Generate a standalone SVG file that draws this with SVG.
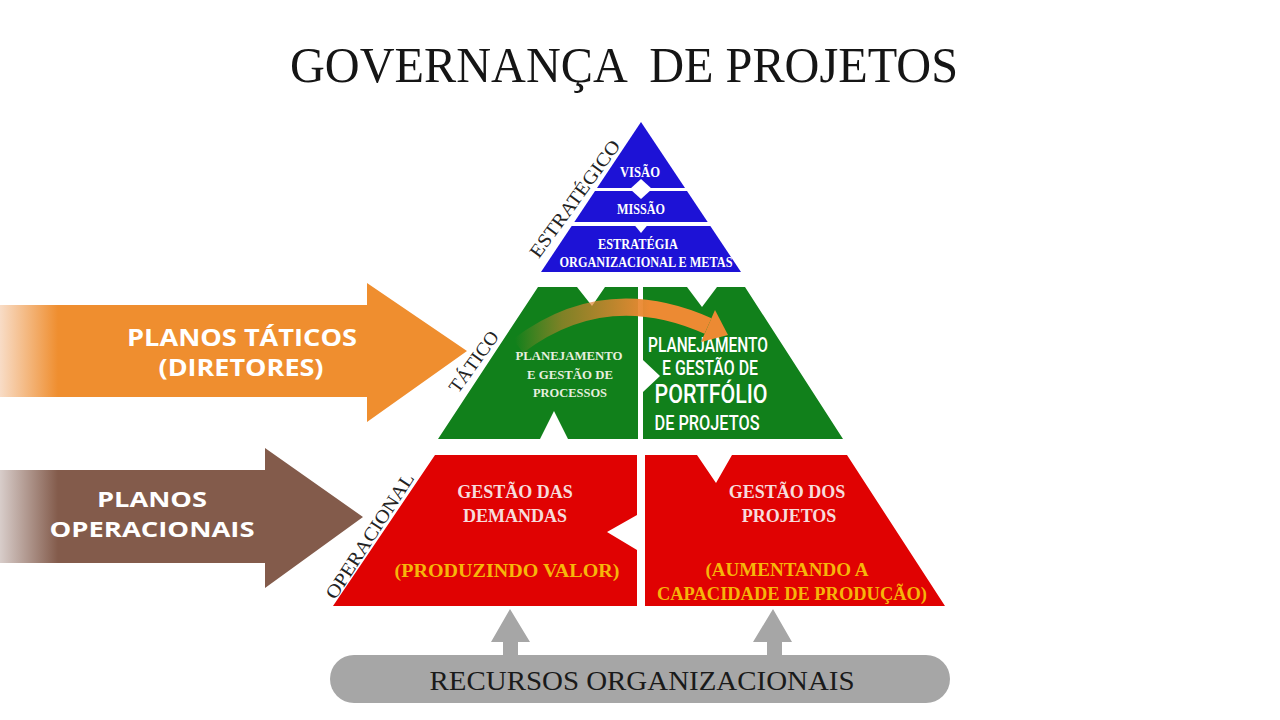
<svg xmlns="http://www.w3.org/2000/svg" width="1280" height="720" viewBox="0 0 1280 720">
  <defs>
    <linearGradient id="fadeOrange" gradientUnits="userSpaceOnUse" x1="0" y1="0" x2="58" y2="0">
      <stop offset="0" stop-color="#f8dcc6"/>
      <stop offset="1" stop-color="#ef8e2f"/>
    </linearGradient>
    <linearGradient id="fadeBrown" gradientUnits="userSpaceOnUse" x1="0" y1="0" x2="58" y2="0">
      <stop offset="0" stop-color="#d8cdca"/>
      <stop offset="1" stop-color="#835b4b"/>
    </linearGradient>
    <linearGradient id="curveGrad" gradientUnits="userSpaceOnUse" x1="515" y1="0" x2="650" y2="0">
      <stop offset="0" stop-color="#ec8a33" stop-opacity="0"/>
      <stop offset="0.35" stop-color="#d9822f" stop-opacity="0.55"/>
      <stop offset="1" stop-color="#ec8a33" stop-opacity="1"/>
    </linearGradient>
  </defs>
  <style>
    .serif { font-family: "Liberation Serif", "Times New Roman", serif; }
    .sans { font-family: "Open Sans", "Liberation Sans", Arial, sans-serif; font-weight: 700; }
    .cond { font-family: Roboto, "Liberation Sans", Arial, sans-serif; fill: #ffffff; font-weight: 500; }
    .side { font-family: "Liberation Serif", "Times New Roman", serif; font-size: 19px; fill: #222222; text-anchor: middle; }
    .blueT { font-family: "Liberation Serif", serif; font-weight: 700; font-size: 14px; fill: #ffffff; text-anchor: middle; }
    .greenT { font-family: "Liberation Serif", serif; font-weight: 700; font-size: 13px; fill: #e6efdf; text-anchor: middle; }
    .redW { font-family: "Liberation Serif", serif; font-weight: 700; font-size: 18px; fill: #f7dcdc; text-anchor: middle; }
    .redY { font-family: "Liberation Serif", serif; font-weight: 700; font-size: 19px; fill: #f6b60a; text-anchor: middle; }
    .white { fill: #ffffff; }
    .gray { fill: #a6a6a6; }
  </style>
  <rect width="1280" height="720" fill="#ffffff"/>

  <text id="title" class="serif" x="624" y="82" font-size="51" fill="#151515" text-anchor="middle" textLength="668" lengthAdjust="spacingAndGlyphs" xml:space="preserve">GOVERNANÇA  DE PROJETOS</text>

  <g id="estrategico">
    <polygon points="641,122 741,272 541,272" fill="#1d12d6"/>
    <rect class="white" x="560" y="188" width="160" height="3"/>
    <rect class="white" x="560" y="222" width="170" height="4"/>
    <polygon class="white" points="641,179 652,189 641,199 630,189"/>
    <polygon class="white" points="632,222 650,222 641,233"/>
    <text class="blueT" x="640" y="177" textLength="40" lengthAdjust="spacingAndGlyphs">VISÃO</text>
    <text class="blueT" x="641" y="214" textLength="48" lengthAdjust="spacingAndGlyphs">MISSÃO</text>
    <text class="blueT" x="638" y="249" textLength="80" lengthAdjust="spacingAndGlyphs">ESTRATÉGIA</text>
    <text class="blueT" x="646" y="267" textLength="173" lengthAdjust="spacingAndGlyphs">ORGANIZACIONAL E METAS</text>
    <text class="side" transform="translate(575,199) rotate(-54)" y="6" textLength="140" lengthAdjust="spacingAndGlyphs">ESTRATÉGICO</text>
  </g>

  <g id="tatico-processos">
    <polygon points="538,287 577,287 592,306 605,287 638,287 638,439 568,439 554,411 540,439 438,439" fill="#11801b"/>
    <text class="greenT" x="569" y="360" textLength="107" lengthAdjust="spacingAndGlyphs">PLANEJAMENTO</text>
    <text class="greenT" x="570" y="379" textLength="86" lengthAdjust="spacingAndGlyphs">E GESTÃO DE</text>
    <text class="greenT" x="570" y="397" textLength="74" lengthAdjust="spacingAndGlyphs">PROCESSOS</text>
    <text class="side" transform="translate(474,362) rotate(-54)" y="6" textLength="71" lengthAdjust="spacingAndGlyphs">TÁTICO</text>
  </g>

  <g id="tatico-portfolio">
    <polygon points="643,287 687,287 702,307 717,287 745,287 843,439 643,439 643,392 660,376 643,360" fill="#11801b"/>
    <text class="cond" x="708" y="352" font-size="21" text-anchor="middle" textLength="120" lengthAdjust="spacingAndGlyphs">PLANEJAMENTO</text>
    <text class="cond" x="710" y="375" font-size="21" text-anchor="middle" textLength="96" lengthAdjust="spacingAndGlyphs">E GESTÃO DE</text>
    <text class="cond" x="711" y="403" font-size="25" font-weight="900" text-anchor="middle" textLength="113" lengthAdjust="spacingAndGlyphs">PORTFÓLIO</text>
    <text class="cond" x="707" y="430" font-size="21" text-anchor="middle" textLength="105" lengthAdjust="spacingAndGlyphs">DE PROJETOS</text>
  </g>

  <g id="operacional-demandas">
    <polygon points="435,455 637,455 637,515 607,532 637,550 637,606 333,606" fill="#e00202"/>
    <text class="redW" x="515" y="498">GESTÃO DAS</text>
    <text class="redW" x="515" y="522">DEMANDAS</text>
    <text class="redY" x="507" y="577" textLength="225" lengthAdjust="spacingAndGlyphs">(PRODUZINDO VALOR)</text>
    <text class="side" transform="translate(370,536) rotate(-57)" y="6" textLength="146" lengthAdjust="spacingAndGlyphs">OPERACIONAL</text>
  </g>

  <g id="operacional-projetos">
    <polygon points="645,455 697,455 716,483 732,455 847,455 945,606 645,606" fill="#e00202"/>
    <text class="redW" x="787" y="498">GESTÃO DOS</text>
    <text class="redW" x="789" y="522">PROJETOS</text>
    <text class="redY" x="787" y="576" textLength="163" lengthAdjust="spacingAndGlyphs">(AUMENTANDO A</text>
    <text class="redY" x="792" y="600" textLength="270" lengthAdjust="spacingAndGlyphs">CAPACIDADE DE PRODUÇÃO)</text>
  </g>

  <g id="planos-taticos">
    <polygon points="0,305 367,305 367,283 467,351 367,422 367,397 0,397" fill="url(#fadeOrange)"/>
    <text class="sans" x="242" y="346" font-size="24" fill="#ffffff" text-anchor="middle" textLength="230" lengthAdjust="spacingAndGlyphs">PLANOS TÁTICOS</text>
    <text class="sans" x="241" y="376" font-size="24" fill="#ffffff" text-anchor="middle" textLength="165" lengthAdjust="spacingAndGlyphs">(DIRETORES)</text>
  </g>

  <g id="planos-operacionais">
    <polygon points="0,470 265,470 265,448 363,517 265,588 265,563 0,563" fill="url(#fadeBrown)"/>
    <text class="sans" x="152" y="507" font-size="22" fill="#ffffff" text-anchor="middle" textLength="110" lengthAdjust="spacingAndGlyphs">PLANOS</text>
    <text class="sans" x="152" y="537" font-size="22" fill="#ffffff" text-anchor="middle" textLength="205" lengthAdjust="spacingAndGlyphs">OPERACIONAIS</text>
  </g>

  <g id="recursos">
    <rect class="gray" x="330" y="655" width="620" height="48" rx="24"/>
    <text class="serif" x="642" y="690" font-size="28" fill="#1a1a1a" text-anchor="middle" textLength="425" lengthAdjust="spacingAndGlyphs">RECURSOS ORGANIZACIONAIS</text>
  </g>

  <g id="connectors">
    <path d="M518,346 Q605,280 708,326" fill="none" stroke="url(#curveGrad)" stroke-width="17"/>
    <polygon points="728,335 701,342 715,310" fill="#ec8a33"/>
    <polygon class="gray" points="510,609 530,642 518,642 518,656 503,656 503,642 491,642"/>
    <polygon class="gray" points="773,609 792,642 782,642 782,656 767,656 767,642 753,642"/>
  </g>
</svg>
